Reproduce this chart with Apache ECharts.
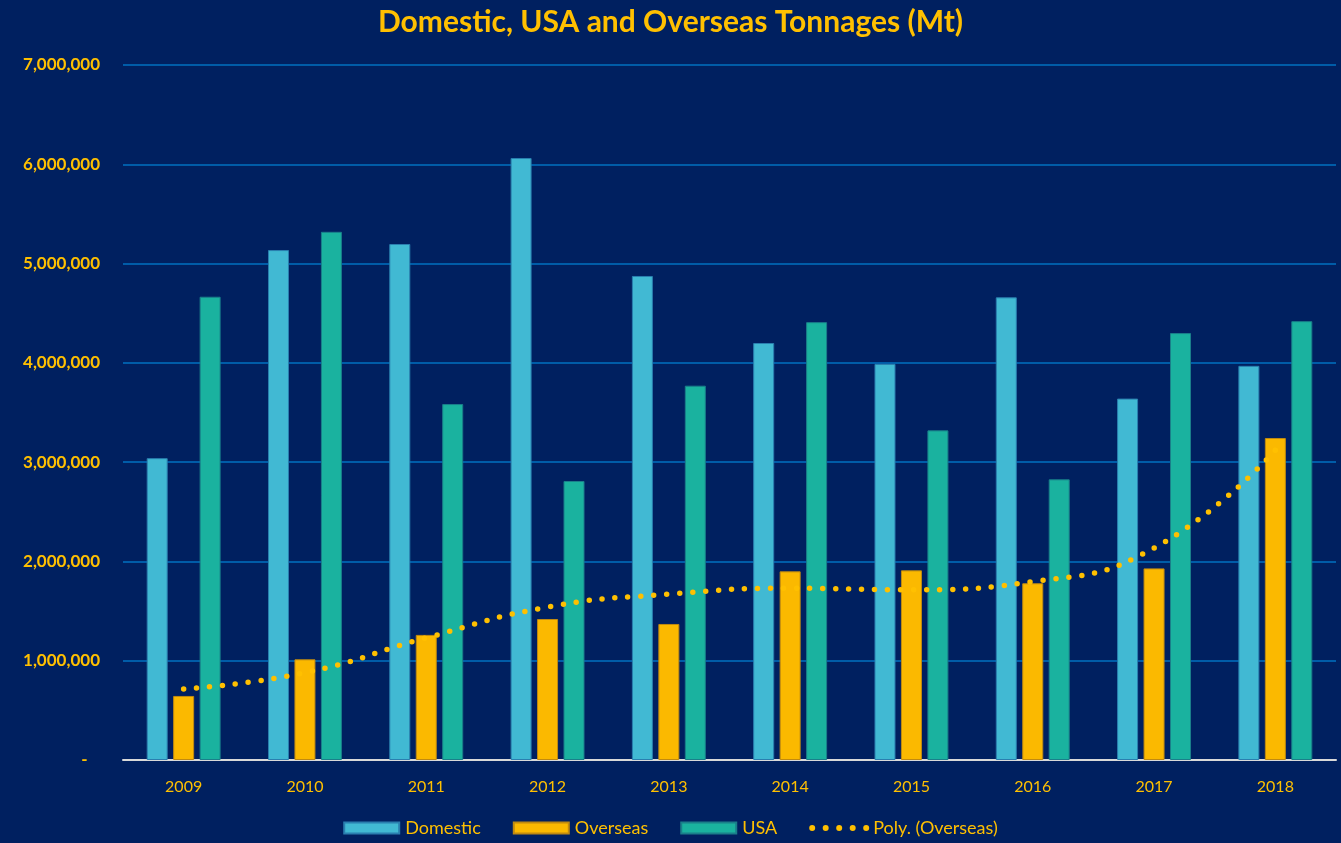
<!DOCTYPE html>
<html>
<head>
<meta charset="utf-8">
<title>Domestic, USA and Overseas Tonnages</title>
<script src="https://cdn.jsdelivr.net/npm/echarts@6/dist/echarts.min.js"></script>
<style>
  html, body { margin: 0; padding: 0; background: #002060; }
  #chart { width: 1341px; height: 843px; }
</style>
</head>
<body>
<div id="chart"></div>
<script>
// years on the x axis
const years = ['2009', '2010', '2011', '2012', '2013', '2014', '2015', '2016', '2017', '2018'];

// tonnages
const domestic = [3040000, 5136000, 5197000, 6063000, 4875000, 4200000, 3990000, 4660000, 3640000, 3970000];
const overseas = [645000, 1014000, 1260000, 1420000, 1370000, 1900000, 1910000, 1780000, 1930000, 3243000];
const usa = [4666000, 5320000, 3585000, 2810000, 3770000, 4410000, 3320000, 2827000, 4300000, 4420000];
// polynomial trendline of overseas, read at each year
const polyOverseas = [715000, 880000, 1230000, 1540000, 1670000, 1730000, 1715000, 1796000, 2135000, 3120000];

const gold = '#FFC000';

const chart = echarts.init(document.getElementById('chart'));

const barSeries = (name, data, color, border) => ({
    name: name,
    type: 'bar',
    data: data,
    barWidth: 21,
    barGap: '26%',
    itemStyle: { color: color, borderColor: border, borderWidth: 1 }
});

const option = {
    backgroundColor: '#002060',
    animation: false,
    title: {
        text: 'Domestic, USA and Overseas Tonnages (Mt)',
        left: 'center',
        top: 2,
        textStyle: { color: gold, fontFamily: 'Lato', fontWeight: 'bold', fontSize: 30 }
    },
    legend: {
        bottom: 1,
        left: 'center',
        itemWidth: 55,
        itemHeight: 11,
        itemGap: 32,
        textStyle: { color: gold, fontFamily: 'Lato', fontSize: 18, padding: [0, 0, 0, 1] },
        data: [
            { name: 'Domestic', icon: 'rect' },
            { name: 'Overseas', icon: 'rect' },
            { name: 'USA', icon: 'rect' },
            {
                name: 'Poly. (Overseas)',
                lineStyle: { type: [0, 13.5], width: 6, cap: 'round', color: gold },
                itemStyle: { opacity: 0 }
            }
        ]
    },
    grid: { left: 123, right: 5, top: 65, bottom: 83, containLabel: false },
    xAxis: {
        type: 'category',
        data: years,
        axisLine: { lineStyle: { color: '#D9D9D9', width: 2 } },
        axisTick: { show: false },
        axisLabel: { color: gold, fontFamily: 'Lato', fontSize: 16, margin: 19 }
    },
    yAxis: {
        type: 'value',
        min: 0,
        max: 7000000,
        interval: 1000000,
        axisLine: { show: false },
        axisTick: { show: false },
        splitLine: { lineStyle: { color: '#0070C0', width: 1.5 } },
        axisLabel: {
            color: gold,
            fontFamily: 'Lato',
            fontWeight: 'bold',
            fontSize: 17,
            margin: 23,
            formatter: v => v === 0 ? '-   ' : v.toLocaleString('en-US')
        }
    },
    series: [
        barSeries('Domestic', domestic, '#41B9D3', '#2A7FAF'),
        barSeries('Overseas', overseas, '#FBB900', '#C08A10'),
        barSeries('USA', usa, '#1AB29F', '#1A7F8A'),
        {
            name: 'Poly. (Overseas)',
            type: 'line',
            data: polyOverseas,
            smooth: 0.5,
            symbol: 'none',
            z: 10,
            lineStyle: { color: gold, width: 5.5, type: [0, 13], cap: 'round' },
            itemStyle: { color: gold }
        }
    ]
};

chart.setOption(option);
</script>
</body>
</html>
